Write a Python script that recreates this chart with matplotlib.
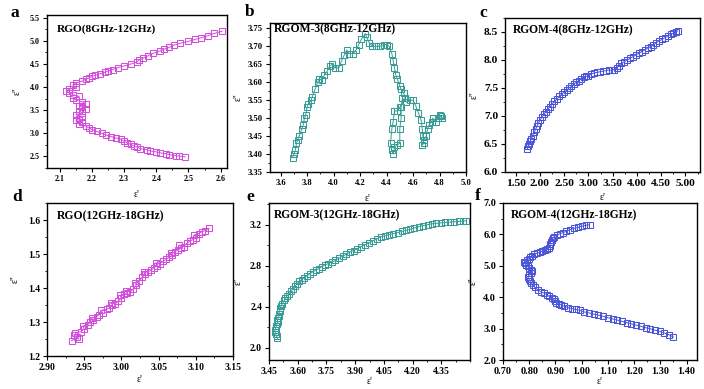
import matplotlib
matplotlib.use("Agg")
import matplotlib.pyplot as plt
from matplotlib.ticker import AutoMinorLocator, FormatStrFormatter

plt.rcParams['font.family'] = ['Liberation Serif', 'DejaVu Serif']

# ---------------- data ----------------
# a: RGO (8-12 GHz)
a_x = [2.49, 2.47, 2.46, 2.44, 2.43, 2.41, 2.40, 2.38, 2.37, 2.35,
       2.34, 2.33, 2.32, 2.31, 2.30, 2.29, 2.275, 2.26, 2.245, 2.23,
       2.215, 2.20, 2.19, 2.18, 2.16, 2.17, 2.15, 2.16, 2.17, 2.15,
       2.17, 2.16, 2.18, 2.17, 2.16, 2.18, 2.17, 2.15, 2.14, 2.16,
       2.14, 2.13, 2.12, 2.13, 2.15, 2.14, 2.15, 2.17, 2.18, 2.19,
       2.20, 2.21, 2.225, 2.24, 2.25, 2.265, 2.28, 2.30, 2.32, 2.34,
       2.345, 2.36, 2.375, 2.39, 2.41, 2.425, 2.44, 2.455, 2.475, 2.50,
       2.52, 2.54, 2.56, 2.58, 2.605]
a_y = [2.49, 2.51, 2.52, 2.54, 2.56, 2.58, 2.60, 2.62, 2.65, 2.67,
       2.70, 2.73, 2.76, 2.79, 2.83, 2.87, 2.90, 2.93, 2.96, 3.00,
       3.04, 3.08, 3.12, 3.16, 3.20, 3.24, 3.28, 3.32, 3.36, 3.40,
       3.44, 3.48, 3.52, 3.56, 3.60, 3.64, 3.68, 3.72, 3.76, 3.80,
       3.84, 3.88, 3.92, 3.96, 4.00, 4.05, 4.09, 4.13, 4.17, 4.20,
       4.23, 4.26, 4.29, 4.32, 4.35, 4.38, 4.42, 4.46, 4.50, 4.54,
       4.58, 4.63, 4.68, 4.73, 4.78, 4.82, 4.86, 4.91, 4.95, 4.99,
       5.03, 5.07, 5.11, 5.16, 5.21]

# b: RGOM-3 (8-12 GHz)
b_x = [3.69, 3.70, 3.71, 3.72, 3.73, 3.74, 3.76, 3.77, 3.78, 3.79,
       3.80, 3.81, 3.83, 3.84, 3.86, 3.88, 3.89, 3.91, 3.93, 3.95,
       3.97, 3.99, 4.01, 4.04, 4.06, 4.08, 4.10, 4.12, 4.15, 4.17,
       4.19, 4.21, 4.24, 4.25, 4.27, 4.29, 4.32, 4.35, 4.38, 4.40,
       4.42, 4.44, 4.45, 4.46, 4.47, 4.48, 4.50, 4.51, 4.53, 4.54,
       4.50, 4.48, 4.46, 4.45, 4.44, 4.43, 4.44, 4.45, 4.46, 4.48,
       4.50, 4.50, 4.51, 4.51, 4.52, 4.55, 4.58, 4.60, 4.62, 4.64,
       4.66, 4.67, 4.675, 4.68, 4.67, 4.68, 4.70, 4.71, 4.72, 4.74,
       4.75, 4.77, 4.79, 4.81, 4.82, 4.80]
b_y = [3.39, 3.40, 3.41, 3.43, 3.44, 3.45, 3.47, 3.48, 3.50, 3.51,
       3.53, 3.54, 3.55, 3.56, 3.58, 3.60, 3.61, 3.605, 3.62, 3.63,
       3.645, 3.65, 3.64, 3.64, 3.66, 3.675, 3.69, 3.68, 3.68, 3.69,
       3.705, 3.72, 3.735, 3.725, 3.71, 3.70, 3.70, 3.70, 3.705, 3.705,
       3.70, 3.68, 3.66, 3.64, 3.62, 3.61, 3.59, 3.58, 3.57, 3.555,
       3.53, 3.52, 3.52, 3.49, 3.47, 3.43, 3.41, 3.40, 3.42, 3.425,
       3.43, 3.47, 3.50, 3.53, 3.555, 3.545, 3.55, 3.55, 3.535, 3.515,
       3.495, 3.47, 3.45, 3.43, 3.425, 3.44, 3.45, 3.47, 3.48, 3.49,
       3.50, 3.49, 3.50, 3.505, 3.50, 3.51]

# c: RGOM-4 (8-12 GHz)
c_x = [1.74, 1.76, 1.78, 1.80, 1.82, 1.85, 1.88, 1.91, 1.94, 1.97,
       2.00, 2.04, 2.08, 2.12, 2.16, 2.20, 2.25, 2.30, 2.35, 2.40,
       2.45, 2.50, 2.55, 2.60, 2.65, 2.70, 2.75, 2.80, 2.85, 2.90,
       2.95, 3.00, 3.06, 3.12, 3.18, 3.24, 3.30, 3.36, 3.42, 3.48,
       3.53, 3.58, 3.63, 3.68, 3.74, 3.80, 3.86, 3.92, 3.98, 4.04,
       4.10, 4.16, 4.22, 4.28, 4.34, 4.40, 4.46, 4.52, 4.58, 4.64,
       4.70, 4.75, 4.80, 4.84]
c_y = [6.41, 6.46, 6.50, 6.55, 6.59, 6.65, 6.71, 6.76, 6.82, 6.87,
       6.92, 6.98, 7.03, 7.08, 7.12, 7.16, 7.21, 7.26, 7.30, 7.35,
       7.39, 7.43, 7.46, 7.50, 7.53, 7.57, 7.60, 7.63, 7.66, 7.70,
       7.71, 7.72, 7.75, 7.77, 7.78, 7.79, 7.80, 7.81, 7.82, 7.82,
       7.83, 7.86, 7.90, 7.94, 7.97, 8.00, 8.03, 8.06, 8.09, 8.12,
       8.15, 8.18, 8.21, 8.24, 8.27, 8.31, 8.34, 8.37, 8.40, 8.43,
       8.46, 8.48, 8.50, 8.52]

# d: RGO (12-18 GHz)
d_x = [2.933, 2.940, 2.936, 2.943, 2.938, 2.946, 2.950, 2.948, 2.955, 2.958,
       2.962, 2.960, 2.967, 2.970, 2.975, 2.973, 2.980, 2.984, 2.988, 2.986,
       2.992, 2.996, 3.000, 2.998, 3.004, 3.008, 3.006, 3.012, 3.016, 3.020,
       3.018, 3.024, 3.028, 3.032, 3.030, 3.036, 3.040, 3.044, 3.048, 3.046,
       3.052, 3.056, 3.060, 3.064, 3.068, 3.066, 3.072, 3.076, 3.080, 3.078,
       3.084, 3.088, 3.092, 3.096, 3.100, 3.098, 3.104, 3.108, 3.112, 3.118]
d_y = [1.245, 1.255, 1.262, 1.250, 1.268, 1.272, 1.280, 1.288, 1.292, 1.300,
       1.305, 1.312, 1.316, 1.322, 1.326, 1.334, 1.338, 1.342, 1.350, 1.356,
       1.354, 1.362, 1.370, 1.378, 1.382, 1.386, 1.392, 1.388, 1.398, 1.408,
       1.416, 1.420, 1.432, 1.440, 1.446, 1.448, 1.452, 1.460, 1.466, 1.474,
       1.472, 1.478, 1.484, 1.490, 1.496, 1.502, 1.506, 1.512, 1.518, 1.526,
       1.522, 1.532, 1.538, 1.542, 1.548, 1.556, 1.560, 1.566, 1.568, 1.576]

# e: RGOM-3 (12-18 GHz)
e_x = [3.494, 3.490, 3.486, 3.482, 3.480, 3.484, 3.488, 3.492, 3.496, 3.494,
       3.498, 3.502, 3.500, 3.506, 3.510, 3.514, 3.520, 3.528, 3.536, 3.545,
       3.555, 3.565, 3.575, 3.585, 3.596, 3.608, 3.620, 3.634, 3.648, 3.662,
       3.678, 3.694, 3.710, 3.726, 3.742, 3.760, 3.778, 3.796, 3.815, 3.834,
       3.853, 3.872, 3.892, 3.912, 3.932, 3.952, 3.972, 3.993, 4.014, 4.035,
       4.056, 4.078, 4.100, 4.122, 4.144, 4.166, 4.188, 4.210, 4.232, 4.255,
       4.278, 4.301, 4.324, 4.347, 4.370, 4.393, 4.416, 4.440, 4.462, 4.478]
e_y = [2.09, 2.11, 2.13, 2.15, 2.17, 2.19, 2.21, 2.23, 2.25, 2.27,
       2.29, 2.31, 2.33, 2.36, 2.39, 2.41, 2.43, 2.46, 2.48, 2.505,
       2.527, 2.55, 2.575, 2.60, 2.62, 2.645, 2.662, 2.683, 2.70, 2.72,
       2.738, 2.755, 2.77, 2.79, 2.805, 2.82, 2.835, 2.85, 2.87, 2.89,
       2.91, 2.93, 2.947, 2.965, 2.985, 3.003, 3.02, 3.04, 3.06, 3.08,
       3.09, 3.10, 3.112, 3.122, 3.133, 3.143, 3.155, 3.167, 3.18, 3.19,
       3.198, 3.207, 3.212, 3.216, 3.22, 3.224, 3.227, 3.23, 3.233, 3.236]

# f: RGOM-4 (12-18 GHz)
f_x = [1.030, 1.015, 1.000, 0.985, 0.970, 0.955, 0.942, 0.930, 0.918, 0.906,
       0.896, 0.890, 0.886, 0.882, 0.880, 0.878, 0.874, 0.868, 0.860, 0.850,
       0.840, 0.830, 0.820, 0.810, 0.804, 0.798, 0.790, 0.782, 0.784, 0.788,
       0.794, 0.800, 0.806, 0.810, 0.806, 0.800, 0.795, 0.798, 0.803, 0.808,
       0.814, 0.822, 0.832, 0.844, 0.856, 0.866, 0.876, 0.886, 0.893, 0.898,
       0.904, 0.912, 0.922, 0.934, 0.948, 0.962, 0.978, 0.994, 1.010, 1.028,
       1.046, 1.064, 1.082, 1.100, 1.118, 1.136, 1.154, 1.172, 1.190, 1.208,
       1.226, 1.244, 1.262, 1.280, 1.298, 1.316, 1.334, 1.350]
f_y = [6.31, 6.29, 6.26, 6.22, 6.19, 6.15, 6.10, 6.06, 6.02, 5.98,
       5.93, 5.88, 5.82, 5.76, 5.70, 5.64, 5.58, 5.53, 5.49, 5.46,
       5.43, 5.40, 5.36, 5.32, 5.28, 5.22, 5.17, 5.13, 5.08, 5.03,
       4.98, 4.93, 4.88, 4.83, 4.77, 4.71, 4.65, 4.59, 4.52, 4.46,
       4.38, 4.31, 4.24, 4.18, 4.13, 4.08, 4.03, 3.98, 3.93, 3.88,
       3.83, 3.79, 3.75, 3.71, 3.67, 3.64, 3.61, 3.58, 3.53, 3.50,
       3.46, 3.43, 3.39, 3.35, 3.31, 3.27, 3.23, 3.19, 3.15, 3.11,
       3.07, 3.03, 2.99, 2.95, 2.91, 2.86, 2.80, 2.73]

# tick values
a_xt = [2.1, 2.2, 2.3, 2.4, 2.5, 2.6]
a_yt = [2.5, 3.0, 3.5, 4.0, 4.5, 5.0, 5.5]
b_xt = [3.6, 3.8, 4.0, 4.2, 4.4, 4.6, 4.8, 5.0]
b_yt = [3.35, 3.40, 3.45, 3.50, 3.55, 3.60, 3.65, 3.70, 3.75]
c_xt = [1.5, 2.0, 2.5, 3.0, 3.5, 4.0, 4.5, 5.0]
c_yt = [6.0, 6.5, 7.0, 7.5, 8.0, 8.5]
d_xt = [2.90, 2.95, 3.00, 3.05, 3.10, 3.15]
d_yt = [1.2, 1.3, 1.4, 1.5, 1.6]
e_xt = [3.45, 3.60, 3.75, 3.90, 4.05, 4.20, 4.35]
e_yt = [2.0, 2.4, 2.8, 3.2]
f_xt = [0.70, 0.80, 0.90, 1.00, 1.10, 1.20, 1.30, 1.40]
f_yt = [2.0, 3.0, 4.0, 5.0, 6.0, 7.0]

titles = ['RGO(8GHz-12GHz)', 'RGOM-3(8GHz-12GHz)', 'RGOM-4(8GHz-12GHz)',
          'RGO(12GHz-18GHz)', 'RGOM-3(12GHz-18GHz)', 'RGOM-4(12GHz-18GHz)']
letters = ['a', 'b', 'c', 'd', 'e', 'f']

# ---------------- figure ----------------
W, H = 704, 389
fig = plt.figure(figsize=(W / 100, H / 100), dpi=100)

MAG = '#d24fdc'
TEAL = '#3a9c96'
BLUE = '#4b55d8'

cfg = [
    dict(rect=(47, 15, 227, 168), x=a_x, y=a_y, c=MAG, xl=(2.06, 2.62), yl=(2.25, 5.56),
         xt=a_xt, yt=a_yt, xf='%.1f', yf='%.1f', fs=5.8, tfs=8.2, tpos=(0.055, 0.905),
         let=(15, 13), xlp=5, ylp=6),
    dict(rect=(270, 23, 466, 172), x=b_x, y=b_y, c=TEAL, xl=(3.52, 5.0), yl=(3.35, 3.765),
         xt=b_xt, yt=b_yt, xf='%.1f', yf='%.2f', fs=6.2, tfs=8.4, tpos=(0.02, 0.955),
         let=(250, 12), xlp=5, ylp=4),
    dict(rect=(505, 18, 700, 172), x=c_x, y=c_y, c=BLUE, xl=(1.28, 5.30), yl=(6.0, 8.75),
         xt=c_xt, yt=c_yt, xf='%.2f', yf='%.1f', fs=8.2, tfs=8.3, tpos=(0.04, 0.92),
         let=(483, 13), xlp=4, ylp=4),
    dict(rect=(47, 203, 233, 356), x=d_x, y=d_y, c=MAG, xl=(2.90, 3.15), yl=(1.2, 1.65),
         xt=d_xt, yt=d_yt, xf='%.2f', yf='%.1f', fs=7.0, tfs=8.4, tpos=(0.054, 0.915),
         let=(17, 197), xlp=2, ylp=6),
    dict(rect=(269, 203, 470, 360), x=e_x, y=e_y, c=TEAL, xl=(3.45, 4.50), yl=(1.88, 3.41),
         xt=e_xt, yt=e_yt, xf='%.2f', yf='%.1f', fs=7.0, tfs=8.3, tpos=(0.025, 0.924),
         let=(250, 197), xlp=1, ylp=5),
    dict(rect=(503, 203, 697, 360), x=f_x, y=f_y, c=BLUE, xl=(0.70, 1.44), yl=(2.0, 7.0),
         xt=f_xt, yt=f_yt, xf='%.2f', yf='%.1f', fs=7.4, tfs=8.3, tpos=(0.04, 0.924),
         let=(478, 196), xlp=1, ylp=4),
]

for i, p in enumerate(cfg):
    l, t, r, b = p['rect']
    ax = fig.add_axes([l / W, 1 - b / H, (r - l) / W, (b - t) / H])
    ax.plot(p['x'], p['y'], '-', color=p['c'], lw=0.7, marker='s', ms=3.9,
            mfc='none', mec=p['c'], mew=0.75)
    ax.set_xlim(*p['xl'])
    ax.set_ylim(*p['yl'])
    ax.set_xticks(p['xt'])
    ax.set_yticks(p['yt'])
    ax.xaxis.set_major_formatter(FormatStrFormatter(p['xf']))
    ax.yaxis.set_major_formatter(FormatStrFormatter(p['yf']))
    ax.xaxis.set_minor_locator(AutoMinorLocator(2))
    ax.yaxis.set_minor_locator(AutoMinorLocator(2))
    ax.tick_params(which='major', direction='out', length=3, width=0.8,
                   labelsize=p['fs'], pad=2)
    ax.tick_params(which='minor', direction='out', length=1.6, width=0.6)
    for lab in ax.get_xticklabels() + ax.get_yticklabels():
        lab.set_fontweight('bold')
    for s in ax.spines.values():
        s.set_linewidth(1.0)
    ax.set_xlabel("ε'", fontsize=7, labelpad=p['xlp'])
    ax.set_ylabel("ε''", fontsize=7, labelpad=p['ylp'])
    ax.text(p['tpos'][0], p['tpos'][1], titles[i], transform=ax.transAxes,
            fontsize=p['tfs'], fontweight='bold', ha='left', va='center')
    lx, ly = p['let']
    fig.text(lx / W, 1 - ly / H, letters[i], fontsize=12.5, fontweight='bold',
             ha='center', va='center')

fig.savefig('out.png', dpi=100)
